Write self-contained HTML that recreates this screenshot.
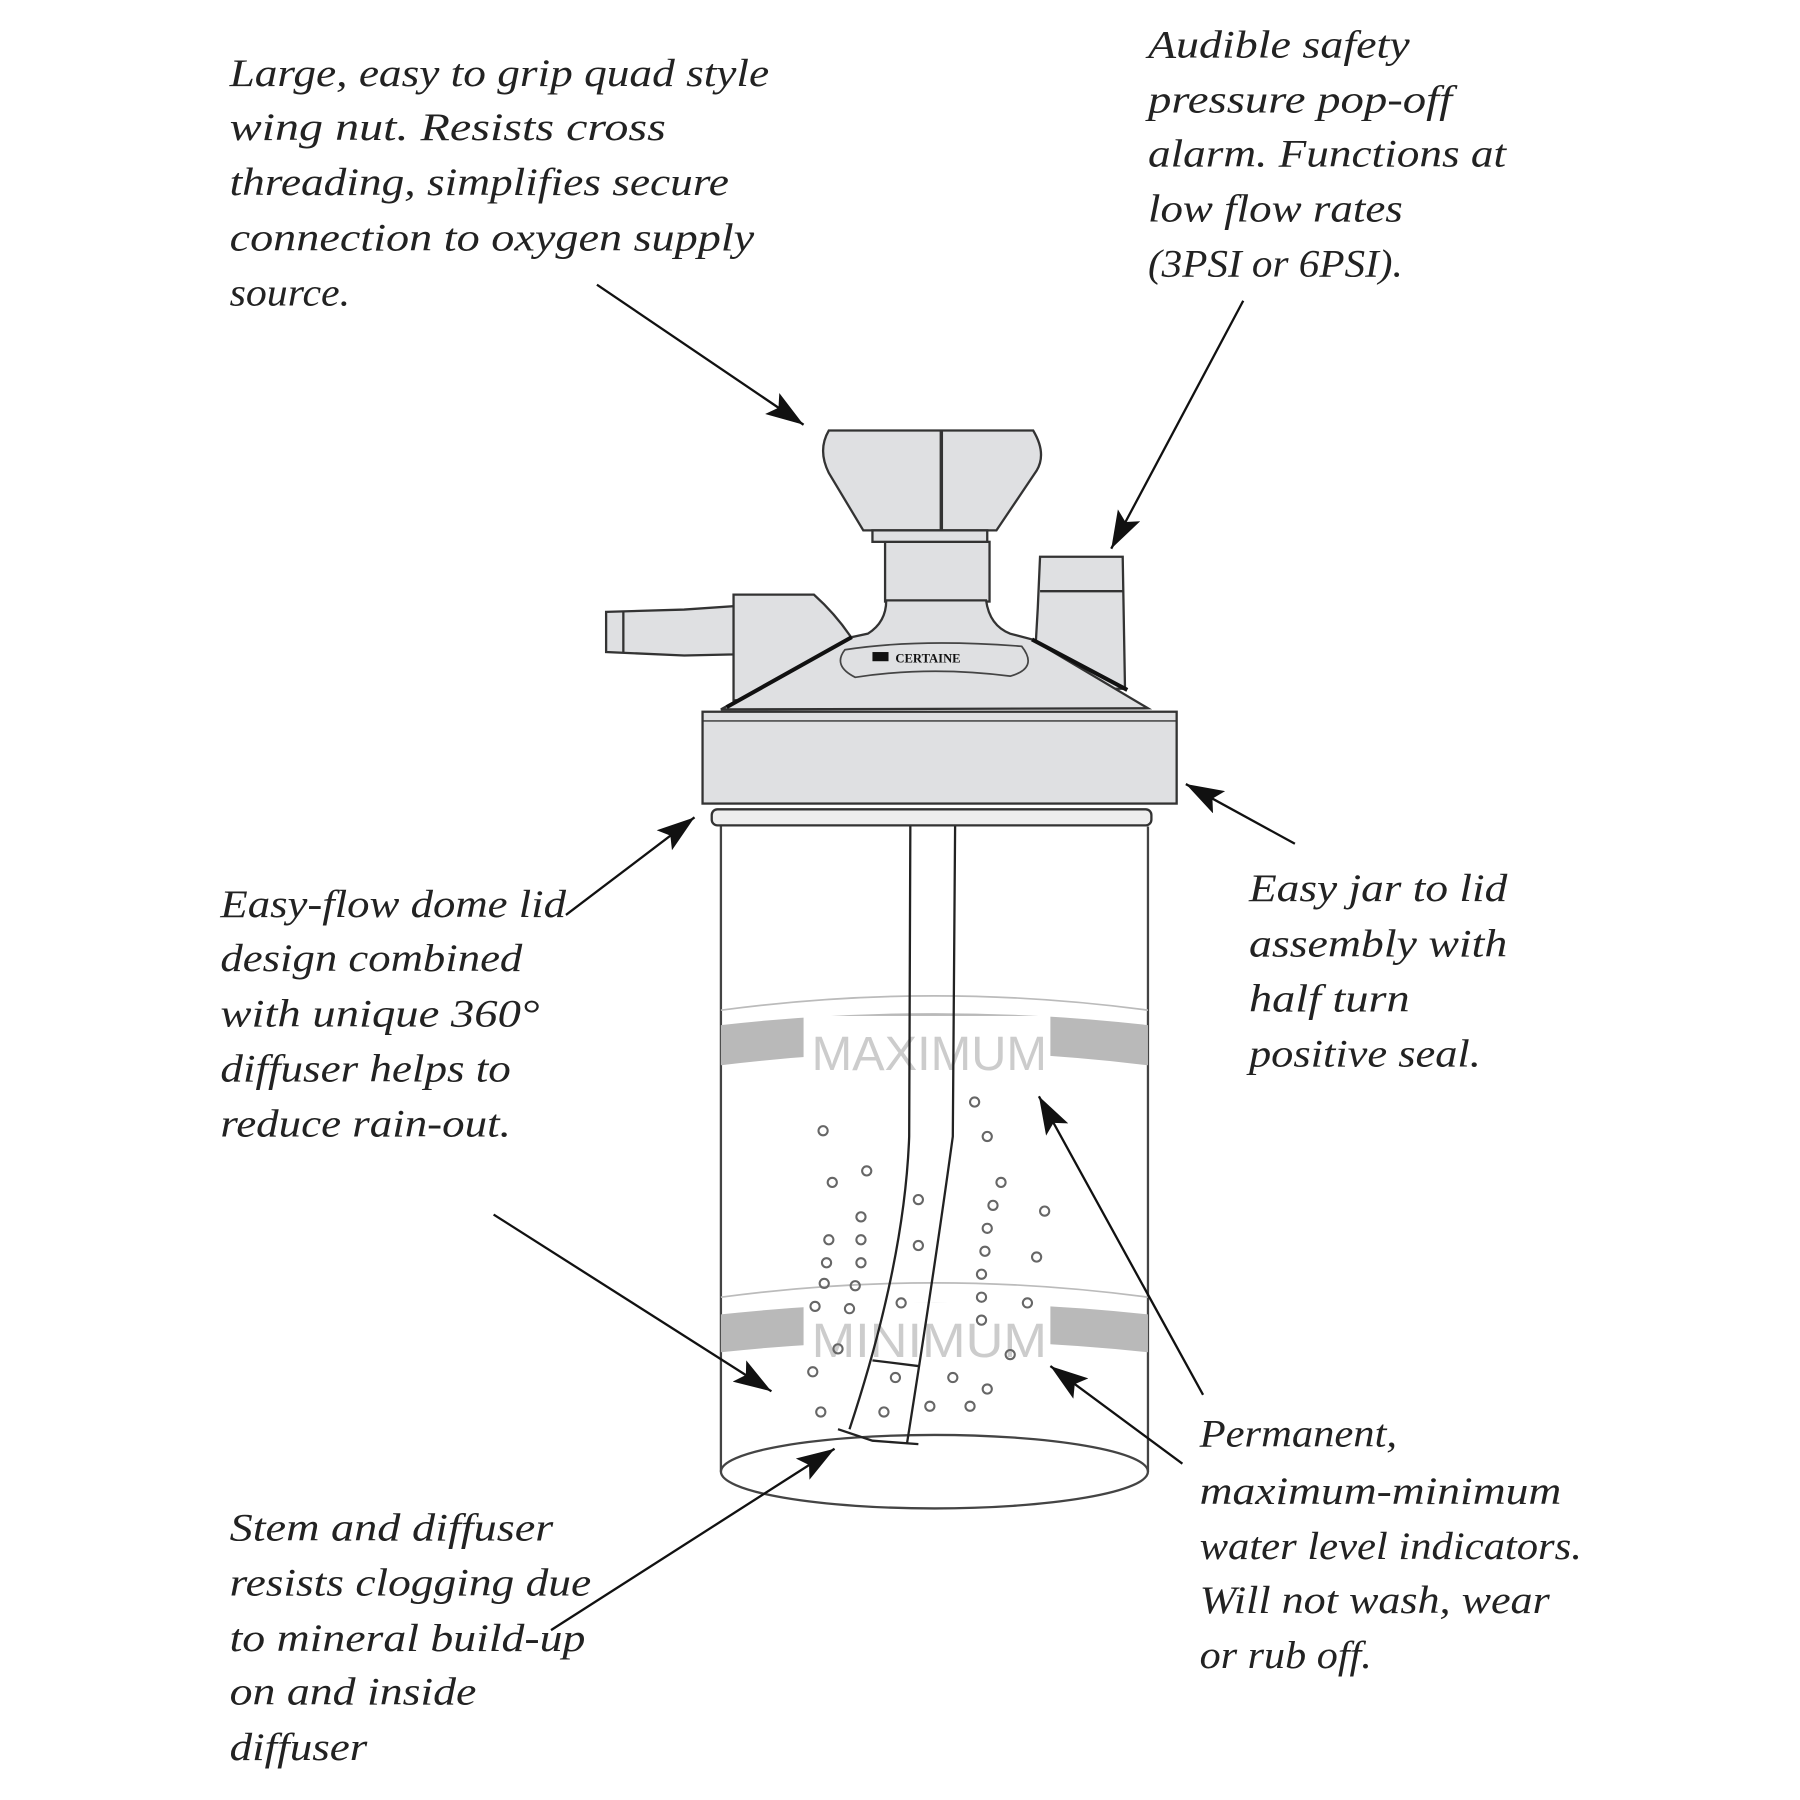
<!DOCTYPE html>
<html><head><meta charset="utf-8"><style>
html,body{margin:0;padding:0;background:#fff;}
svg{display:block;}
text{font-family:"Liberation Serif",serif;font-style:italic;font-size:34px;fill:#222;}
</style></head><body>
<svg width="1800" height="1800" viewBox="0 0 1568 1568" xmlns="http://www.w3.org/2000/svg">
<defs>
<marker id="a" viewBox="0 0 30 20" refX="30" refY="10" markerWidth="34" markerHeight="22" markerUnits="userSpaceOnUse" orient="auto"><path d="M0,0 L30,10 L0,20 L6,10z" fill="#111"/></marker></defs>
<g stroke="#333" stroke-width="2" fill="#dfe0e2">
<path d="M528,533 L596,531 L640,528 L640,570 L596,571 L528,568z"/>
<line x1="543" y1="533" x2="543" y2="568"/>
<path d="M639,518 L709,518 Q728,535 742,556 L700,580 L650,610 L639,610z"/>
<path d="M906,485 L978,485 L980,600 L900,600 L904,530z"/>
<line x1="906" y1="515" x2="978" y2="515"/>
<rect x="771" y="472" width="91" height="52"/>
<path d="M628,618 L742,555 L756,552 Q772,542 772,523 L859,523 Q862,545 880,552 L899,557 L1000,617z"/>
<path d="M633,616 L742,555" fill="none" stroke="#111" stroke-width="3.5"/>
<path d="M899,557 L982,601" fill="none" stroke="#111" stroke-width="3.5"/>
<path d="M736,566 Q800,556 890,563 Q905,582 880,589 Q810,580 745,590 Q725,580 736,566z" fill="#dfe0e2" stroke="#444" stroke-width="1.5"/>
<rect x="760" y="568" width="14" height="8" fill="#111" stroke="none"/>
<text x="780" y="577" style="font-size:11px;font-style:normal;font-weight:bold;fill:#111;stroke:none">CERTAINE</text>
<path d="M722,375 L900,375 Q912,395 903,410 L868,462 L752,462 L722,412 Q712,392 722,375z"/>
<line x1="820" y1="375" x2="820" y2="462" stroke-width="3"/>
<rect x="760" y="462" width="100" height="10"/>
<rect x="612" y="620" width="413" height="80"/>
<line x1="612" y1="628" x2="1025" y2="628" stroke-width="1.2"/>
<rect x="620" y="705" width="383" height="14" rx="5" fill="#eee"/>
</g>
<g stroke="#444" stroke-width="2" fill="none">
<line x1="628" y1="720" x2="628" y2="1282"/>
<line x1="1000" y1="720" x2="1000" y2="1282"/>
<ellipse cx="814" cy="1282" rx="186" ry="32"/>
<path d="M628,880 Q814,855 1000,880" stroke="#bbb" stroke-width="1.5"/>
<path d="M628,1130 Q814,1105 1000,1130" stroke="#bbb" stroke-width="1.5"/>
</g>
<path d="M628,893 Q814,872 1000,893 L1000,928 Q814,905 628,928z" fill="#b9b9b9"/>
<path d="M628,1145 Q814,1125 1000,1145 L1000,1178 Q814,1158 628,1178z" fill="#b9b9b9"/>
<rect x="700" y="885" width="215" height="50" fill="#fff"/>
<rect x="700" y="1135" width="215" height="50" fill="#fff"/>
<text x="707" y="932" style="font-style:normal;font-family:'Liberation Sans',sans-serif;font-size:42px;fill:#ccc" textLength="205" lengthAdjust="spacingAndGlyphs">MAXIMUM</text>
<text x="707" y="1182" style="font-style:normal;font-family:'Liberation Sans',sans-serif;font-size:42px;fill:#ccc" textLength="205" lengthAdjust="spacingAndGlyphs">MINIMUM</text>
<g stroke="#222" stroke-width="2" fill="none">
<path d="M793,720 L792,990 Q788,1100 740,1245"/>
<path d="M832,720 L830,990 Q815,1100 790,1258"/>
<path d="M760,1185 L800,1190"/>
<path d="M730,1245 L760,1255 L800,1258"/>
</g>
<g stroke="#666" stroke-width="1.8" fill="none">
<circle cx="717" cy="985" r="4"/><circle cx="849" cy="960" r="4"/><circle cx="860" cy="990" r="4"/>
<circle cx="725" cy="1030" r="4"/><circle cx="755" cy="1020" r="4"/><circle cx="800" cy="1045" r="4"/>
<circle cx="872" cy="1030" r="4"/><circle cx="865" cy="1050" r="4"/><circle cx="910" cy="1055" r="4"/>
<circle cx="722" cy="1080" r="4"/><circle cx="750" cy="1060" r="4"/><circle cx="750" cy="1080" r="4"/><circle cx="750" cy="1100" r="4"/>
<circle cx="800" cy="1085" r="4"/><circle cx="860" cy="1070" r="4"/><circle cx="858" cy="1090" r="4"/><circle cx="903" cy="1095" r="4"/>
<circle cx="720" cy="1100" r="4"/><circle cx="718" cy="1118" r="4"/><circle cx="745" cy="1120" r="4"/><circle cx="855" cy="1110" r="4"/>
<circle cx="855" cy="1130" r="4"/><circle cx="710" cy="1138" r="4"/><circle cx="740" cy="1140" r="4"/><circle cx="785" cy="1135" r="4"/>
<circle cx="855" cy="1150" r="4"/><circle cx="895" cy="1135" r="4"/><circle cx="708" cy="1195" r="4"/><circle cx="730" cy="1175" r="4"/>
<circle cx="830" cy="1200" r="4"/><circle cx="860" cy="1210" r="4"/><circle cx="810" cy="1225" r="4"/><circle cx="715" cy="1230" r="4"/>
<circle cx="780" cy="1200" r="4"/><circle cx="770" cy="1230" r="4"/><circle cx="880" cy="1180" r="4"/><circle cx="845" cy="1225" r="4"/>
</g>
<g stroke="#111" stroke-width="2" marker-end="url(#a)">
<line x1="520" y1="248" x2="700" y2="370"/>
<line x1="1083" y1="262" x2="968" y2="478"/>
<line x1="493" y1="797" x2="605" y2="712"/>
<line x1="1128" y1="735" x2="1033" y2="683"/>
<line x1="1048" y1="1215" x2="905" y2="955"/>
<line x1="430" y1="1058" x2="672" y2="1212"/>
<line x1="1030" y1="1275" x2="915" y2="1190"/>
<line x1="480" y1="1420" x2="727" y2="1262"/>
</g>
<text x="200" y="75" textLength="470" lengthAdjust="spacingAndGlyphs">Large, easy to grip quad style</text>
<text x="200" y="122" textLength="380" lengthAdjust="spacingAndGlyphs">wing nut.  Resists cross</text>
<text x="200" y="170" textLength="435" lengthAdjust="spacingAndGlyphs">threading, simplifies secure</text>
<text x="200" y="218" textLength="457" lengthAdjust="spacingAndGlyphs">connection to oxygen supply</text>
<text x="200" y="266" textLength="105" lengthAdjust="spacingAndGlyphs">source.</text>
<text x="1000" y="50" textLength="228" lengthAdjust="spacingAndGlyphs">Audible safety</text>
<text x="1000" y="98" textLength="265" lengthAdjust="spacingAndGlyphs">pressure  pop-off</text>
<text x="1000" y="145" textLength="312" lengthAdjust="spacingAndGlyphs">alarm. Functions at</text>
<text x="1000" y="193" textLength="222" lengthAdjust="spacingAndGlyphs">low flow rates</text>
<text x="1000" y="241" textLength="222" lengthAdjust="spacingAndGlyphs">(3PSI or 6PSI).</text>
<text x="192" y="799" textLength="301" lengthAdjust="spacingAndGlyphs">Easy-flow dome lid</text>
<text x="192" y="846" textLength="263" lengthAdjust="spacingAndGlyphs">design combined</text>
<text x="192" y="894" textLength="278" lengthAdjust="spacingAndGlyphs">with unique 360°</text>
<text x="192" y="942" textLength="253" lengthAdjust="spacingAndGlyphs">diffuser helps to</text>
<text x="192" y="990" textLength="253" lengthAdjust="spacingAndGlyphs">reduce rain-out.</text>
<text x="1088" y="785" textLength="225" lengthAdjust="spacingAndGlyphs">Easy jar to lid</text>
<text x="1088" y="833" textLength="225" lengthAdjust="spacingAndGlyphs">assembly with</text>
<text x="1088" y="881" textLength="140" lengthAdjust="spacingAndGlyphs">half turn</text>
<text x="1088" y="929" textLength="202" lengthAdjust="spacingAndGlyphs">positive seal.</text>
<text x="1045" y="1260" textLength="172" lengthAdjust="spacingAndGlyphs">Permanent,</text>
<text x="1045" y="1310" textLength="315" lengthAdjust="spacingAndGlyphs">maximum-minimum</text>
<text x="1045" y="1358" textLength="333" lengthAdjust="spacingAndGlyphs">water level indicators.</text>
<text x="1045" y="1405" textLength="305" lengthAdjust="spacingAndGlyphs">Will not wash, wear</text>
<text x="1045" y="1453" textLength="150" lengthAdjust="spacingAndGlyphs">or rub off.</text>
<text x="200" y="1342" textLength="282" lengthAdjust="spacingAndGlyphs">Stem and diffuser</text>
<text x="200" y="1390" textLength="315" lengthAdjust="spacingAndGlyphs">resists clogging due</text>
<text x="200" y="1438" textLength="310" lengthAdjust="spacingAndGlyphs">to mineral build-up</text>
<text x="200" y="1485" textLength="215" lengthAdjust="spacingAndGlyphs">on and inside</text>
<text x="200" y="1533" textLength="120" lengthAdjust="spacingAndGlyphs">diffuser</text>
</svg>
</body></html>
